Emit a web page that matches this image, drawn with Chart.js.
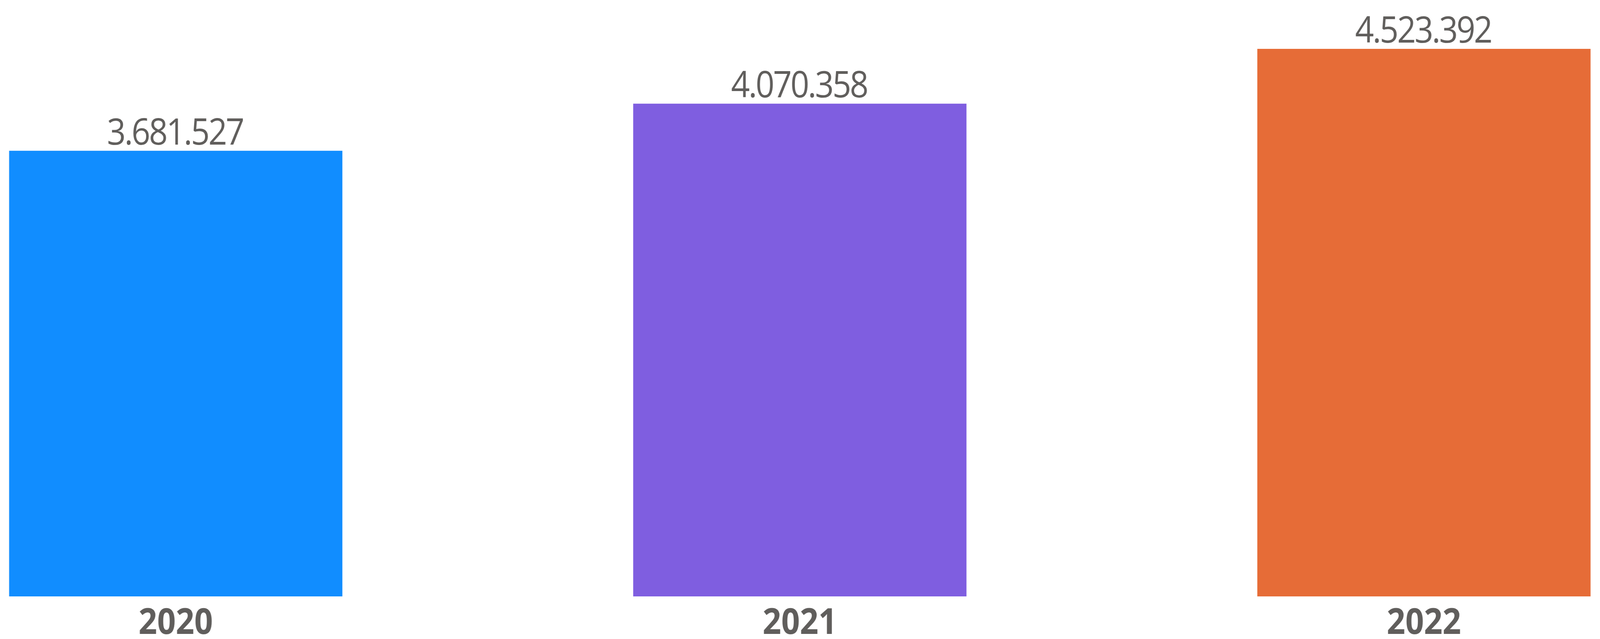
<!DOCTYPE html>
<html>
<head>
<meta charset="utf-8">
<script src="https://cdn.jsdelivr.net/npm/chart.js@4.4.1/dist/chart.umd.min.js"></script>
<style>
  html, body { margin: 0; padding: 0; background: #ffffff; overflow: hidden; }
  /* drawn at the original 4525 x 1635 size, then stretched to whatever the window is */
  #yearChart { display: block; width: 100vw; height: 100vh; }
</style>
</head>
<body>
<canvas id="yearChart" width="4525" height="1635" style="width:100vw;height:100vh"></canvas>
<script>
// Chart data
const years = ["2020", "2021", "2022"];
const totals = [3681527, 4070358, 4523392];
const barColors = ["#118DFF", "#7F5EE0", "#E66C37"];

const TEXT_COLOR = "#605E5C";
const FONT_FAMILY = "'Open Sans', 'Noto Sans', sans-serif";

/******************************************* Format numbers with dots as thousand separators *******************************************/
function formatDots(n) {
  return String(n).replace(/\B(?=(\d{3})+(?!\d))/g, ".");
}

/******************************************* Value labels drawn above each bar *******************************************/
const valueLabels = {
  id: "valueLabels",
  afterDatasetsDraw(chart) {
    const ctx = chart.ctx;
    const meta = chart.getDatasetMeta(0);
    ctx.save();
    ctx.fillStyle = TEXT_COLOR;
    ctx.font = "400 93px " + FONT_FAMILY;
    ctx.letterSpacing = "-4px";
    ctx.textAlign = "center";
    ctx.textBaseline = "alphabetic";
    meta.data.forEach((bar, i) => {
      ctx.fillText(formatDots(totals[i]), bar.x - 2, bar.y - 16);
    });
    ctx.restore();
  },
};

/******************************************* Render the bar chart *******************************************/
new Chart(document.getElementById("yearChart"), {
  type: "bar",
  data: {
    labels: years,
    datasets: [
      {
        label: "Total",
        data: totals,
        backgroundColor: barColors,
        borderWidth: 0,
        barPercentage: 0.534,
        categoryPercentage: 1,
        clip: false,
      },
    ],
  },
  options: {
    responsive: false,
    animation: false,
    devicePixelRatio: 1,
    layout: {
      padding: { left: 497, right: 498, top: 125, bottom: 0 },
    },
    plugins: {
      legend: { display: false },
      tooltip: { enabled: false },
    },
    scales: {
      x: {
        offset: false,
        grid: { display: false, drawTicks: false },
        border: { display: false },
        ticks: {
          color: TEXT_COLOR,
          padding: 24,
          font: { family: FONT_FAMILY, size: 92, weight: "bold", lineHeight: 1 },
        },
        afterFit(scale) {
          scale.height = 109;
        },
      },
      y: {
        display: false,
        min: 0,
        max: Math.max(...totals),
      },
    },
  },
  plugins: [valueLabels],
});
</script>
</body>
</html>
